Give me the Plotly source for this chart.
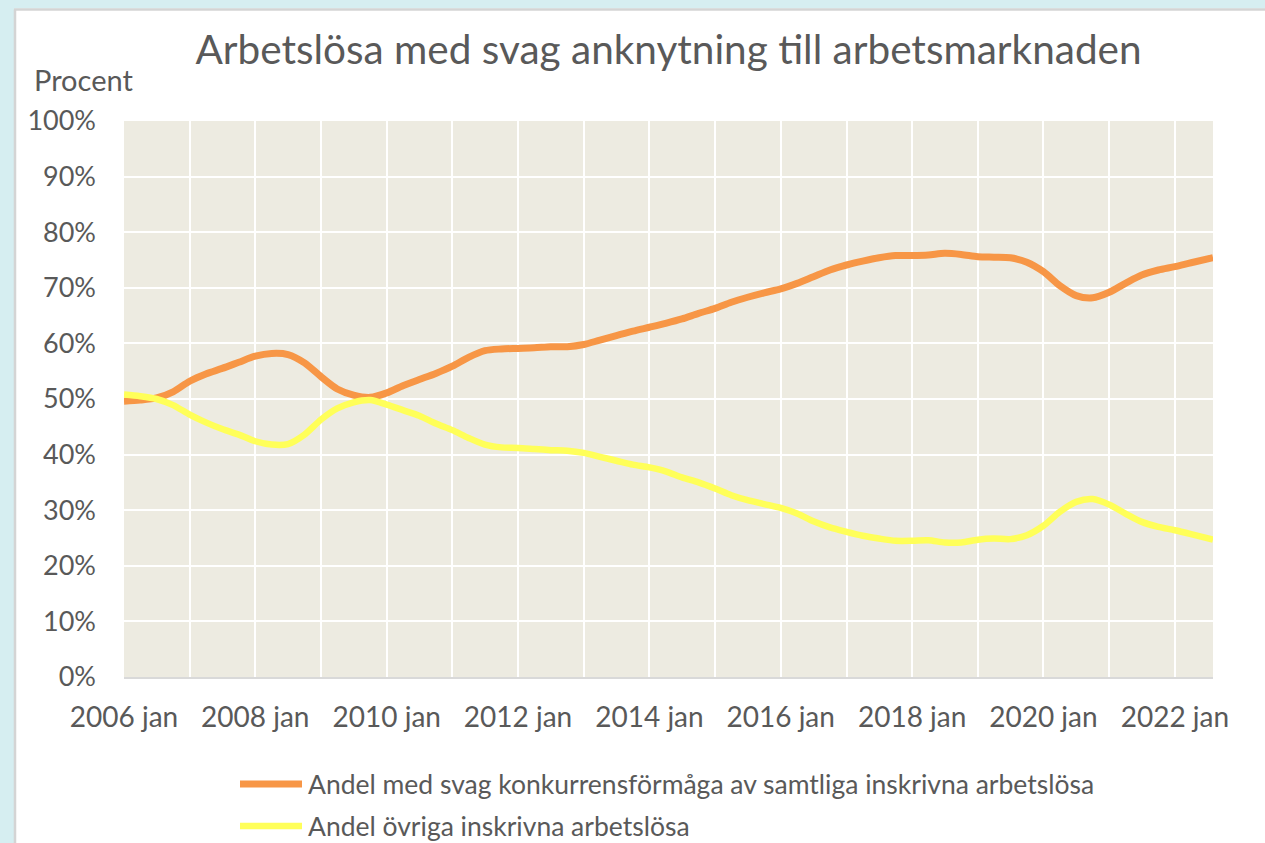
import plotly.graph_objects as go

# ---------------- data (percent) ----------------
dates = [
    "2006-01-01", "2006-04-01", "2006-07-01", "2006-10-01",
    "2007-01-01", "2007-04-01", "2007-07-01", "2007-10-01",
    "2008-01-01", "2008-04-01", "2008-07-01", "2008-10-01",
    "2009-01-01", "2009-04-01", "2009-07-01", "2009-10-01",
    "2010-01-01", "2010-04-01", "2010-07-01", "2010-10-01",
    "2011-01-01", "2011-04-01", "2011-07-01", "2011-10-01",
    "2012-01-01", "2012-04-01", "2012-07-01", "2012-10-01",
    "2013-01-01", "2013-04-01", "2013-07-01", "2013-10-01",
    "2014-01-01", "2014-04-01", "2014-07-01", "2014-10-01",
    "2015-01-01", "2015-04-01", "2015-07-01", "2015-10-01",
    "2016-01-01", "2016-04-01", "2016-07-01", "2016-10-01",
    "2017-01-01", "2017-04-01", "2017-07-01", "2017-10-01",
    "2018-01-01", "2018-04-01", "2018-07-01", "2018-10-01",
    "2019-01-01", "2019-04-01", "2019-07-01", "2019-10-01",
    "2020-01-01", "2020-04-01", "2020-07-01", "2020-10-01",
    "2021-01-01", "2021-04-01", "2021-07-01", "2021-10-01",
    "2022-01-01", "2022-04-01", "2022-08-01",
]

svag_konkurrens = [
    49.6, 49.8, 50.2, 51.3,
    53.2, 54.5, 55.5, 56.6,
    57.7, 58.2, 58.0, 56.5,
    54.0, 51.8, 50.7, 50.3,
    51.1, 52.4, 53.5, 54.6,
    55.9, 57.5, 58.7, 59.0,
    59.1, 59.2, 59.4, 59.4,
    59.8, 60.6, 61.4, 62.2,
    62.9, 63.6, 64.4, 65.4,
    66.3, 67.4, 68.3, 69.1,
    69.8, 70.8, 72.0, 73.2,
    74.1, 74.8, 75.4, 75.8,
    75.8, 75.9, 76.2, 76.0,
    75.6, 75.5, 75.4, 74.6,
    72.9, 70.4, 68.6, 68.2,
    69.2, 70.8, 72.3, 73.2,
    73.8, 74.5, 75.4,
]

ovriga = [
    50.8, 50.5, 50.0, 48.9,
    47.2, 45.8, 44.6, 43.6,
    42.4, 41.8, 41.9, 43.6,
    46.3, 48.3, 49.4, 49.8,
    49.0, 48.0, 47.0, 45.6,
    44.4, 43.0, 41.8, 41.3,
    41.2, 41.0, 40.8, 40.7,
    40.3, 39.6, 38.9, 38.2,
    37.7, 37.0, 35.9, 35.0,
    33.9, 32.7, 31.8, 31.1,
    30.4, 29.4, 28.0, 26.9,
    26.1, 25.4, 24.9, 24.5,
    24.5, 24.6, 24.2, 24.2,
    24.7, 24.9, 24.8, 25.5,
    27.2, 29.7, 31.5, 32.0,
    31.0, 29.4, 27.9, 27.0,
    26.4, 25.7, 24.7,
]

series_names = [
    "Andel med svag konkurrensförmåga av samtliga inskrivna arbetslösa",
    "Andel övriga inskrivna arbetslösa",
]
series_colors = ["#F79646", "#FFFF59"]

x_tickvals = ["2006-01-01", "2008-01-01", "2010-01-01", "2012-01-01", "2014-01-01",
              "2016-01-01", "2018-01-01", "2020-01-01", "2022-01-01"]
x_ticktext = ["2006 jan", "2008 jan", "2010 jan", "2012 jan", "2014 jan",
              "2016 jan", "2018 jan", "2020 jan", "2022 jan"]
y_tickvals = [0, 10, 20, 30, 40, 50, 60, 70, 80, 90, 100]
y_ticktext = ["0%", "10%", "20%", "30%", "40%", "50%", "60%", "70%", "80%", "90%", "100%"]

title_text = "Arbetslösa med svag anknytning till arbetsmarknaden"
y_unit = "Procent"

# ---------------- layout geometry ----------------
W, H = 1265, 843
L, R, T, B = 124, 52, 121, 166
PW, PH = W - L - R, H - T - B


def px(x):
    return (x - L) / PW


def py(y):
    return (H - B - y) / PH


FONT = "Lato, 'Open Sans', sans-serif"
TXT = "#595959"

fig = go.Figure()
widths = [7, 6.5]
for name, vals, col, w in zip(series_names, [svag_konkurrens, ovriga], series_colors, widths):
    fig.add_trace(go.Scatter(
        x=dates, y=vals, name=name, mode="lines",
        line=dict(color=col, width=w, shape="spline", smoothing=0.8),
        showlegend=False,
    ))

shapes = []
# light blue outer frame
shapes.append(dict(type="rect", xref="paper", yref="paper", x0=px(-5), x1=px(14), y0=py(-5), y1=py(H + 5),
                   fillcolor="#D6EEF1", line=dict(width=0), layer="above"))
shapes.append(dict(type="rect", xref="paper", yref="paper", x0=px(-5), x1=px(W + 5), y0=py(-5), y1=py(8.5),
                   fillcolor="#D6EEF1", line=dict(width=0), layer="above"))
shapes.append(dict(type="line", xref="paper", yref="paper", x0=px(15), x1=px(15), y0=py(9.5), y1=py(H + 5),
                   line=dict(color="#D4D4D4", width=2.5), layer="above"))
shapes.append(dict(type="line", xref="paper", yref="paper", x0=px(14), x1=px(W + 5), y0=py(9.5), y1=py(9.5),
                   line=dict(color="#D4D4D4", width=2.5), layer="above"))

# manual legend
annotations = []
leg_y = [784, 826]
for name, col, w, yy in zip(series_names, series_colors, widths, leg_y):
    shapes.append(dict(type="line", xref="paper", yref="paper", x0=px(240), x1=px(302), y0=py(yy), y1=py(yy),
                       line=dict(color=col, width=w)))
    annotations.append(dict(xref="paper", yref="paper", x=px(306), y=py(yy), text=name, showarrow=False,
                            xanchor="left", yanchor="middle", font=dict(family=FONT, size=26.5, color=TXT)))

annotations.append(dict(xref="paper", yref="paper", x=px(32), y=py(79), text=y_unit, showarrow=False,
                        xanchor="left", yanchor="middle", font=dict(family=FONT, size=29, color=TXT)))

fig.update_layout(
    width=W, height=H,
    margin=dict(l=L, r=R, t=T, b=B, pad=0),
    paper_bgcolor="white",
    plot_bgcolor="#EDEBE1",
    title=dict(text=title_text, x=0.5, xref="paper", xanchor="center", y=1 - 50 / H, yref="container",
               yanchor="middle", font=dict(family=FONT, size=40.5, color=TXT)),
    shapes=shapes,
    annotations=annotations,
    xaxis=dict(
        type="date",
        range=[dates[0], dates[-1]],
        tickvals=x_tickvals, ticktext=x_ticktext,
        showgrid=False,
        minor=dict(dtick="M12", tick0="2006-01-01", showgrid=True, gridcolor="white", gridwidth=2.2, ticks=""),
        showline=True, linecolor="#D9D9D9", linewidth=2,
        ticks="", ticklabelstandoff=14,
        tickfont=dict(family=FONT, size=28, color=TXT),
        zeroline=False, fixedrange=True,
    ),
    yaxis=dict(
        range=[0, 100],
        tickvals=y_tickvals, ticktext=y_ticktext,
        showgrid=True, gridcolor="white", gridwidth=2.2,
        zeroline=False, ticks="", ticklabelstandoff=27,
        tickfont=dict(family=FONT, size=27, color=TXT),
        fixedrange=True,
    ),
)

fig.write_html(
    "out.html",
    config={"displayModeBar": False},
    post_script="document.body.style.margin='0';document.body.style.overflow='hidden';",
)
